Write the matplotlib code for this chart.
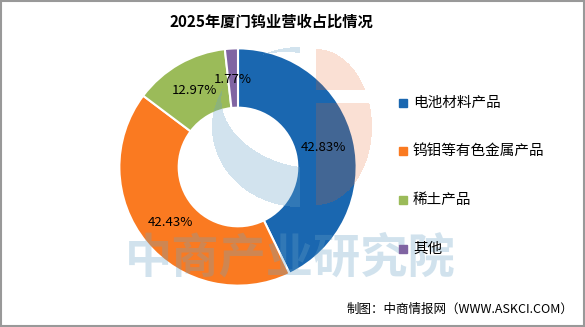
import numpy as np
import matplotlib.pyplot as plt
from matplotlib.patches import Rectangle

plt.rcParams['font.family'] = ['Noto Sans CJK SC', 'DejaVu Sans']

categories = ['电池材料产品', '钨钼等有色金属产品', '稀土产品', '其他']
shares = [42.83, 42.43, 12.97, 1.77]
colors = ['#1A67B0', '#FA7A21', '#9BBB59', '#8064A2']
title = '2025年厦门钨业营收占比情况'
source = '制图：中商情报网（WWW.ASKCI.COM）'
watermark = '中商产业研究院'

W, H = 585, 327
fig = plt.figure(figsize=(W / 100, H / 100), dpi=100)
fig.patch.set_facecolor('white')

# donut, centre at about (238, 167) px, radius 121 px
ax = fig.add_axes([(238 - 121) / W, (H - 167 - 121) / H, 242 / W, 242 / H], zorder=2)
wedges, texts, autotexts = ax.pie(
    shares, colors=colors, startangle=90, counterclock=False, radius=1,
    autopct='%.2f%%', pctdistance=0.74,
    wedgeprops=dict(width=0.5, edgecolor='white', linewidth=1.5))
ax.set_xlim(-1.02, 1.02)
ax.set_ylim(-1.02, 1.02)
ax.set_aspect('equal')

# faint watermark logo over the chart, built as a pixel mask
yy, xx = np.mgrid[0:H, 0:W] + 0.5
left_half = (((xx - 300) / 88) ** 2 + ((yy - 127) / 80) ** 2 <= 1) & (xx <= 300)
th = np.deg2rad(15)
du, dv = xx - 300, yy - 110
u = du * np.cos(th) + dv * np.sin(th)
v = -du * np.sin(th) + dv * np.cos(th)
cut = (u / 80) ** 2 + (v / 56) ** 2 <= 1
right_half = ((((xx - 316) / 56) ** 2 + ((yy - 127) / 78) ** 2 <= 1) & (xx >= 316)
              & ~((yy > 90) & (yy < 103)))
rgba = np.zeros((H, W, 4))
rgba[left_half & ~cut] = (105 / 255, 162 / 255, 198 / 255, 0.3)
rgba[right_half] = (230 / 255, 100 / 255, 40 / 255, 0.2)

over = fig.add_axes([0, 0, 1, 1], zorder=3)
over.imshow(rgba, extent=(0, W, H, 0), interpolation='nearest')
over.set_xlim(0, W)
over.set_ylim(H, 0)
over.axis('off')
over.text(290, 258, watermark, fontsize=34, fontweight='bold',
          color=(105 / 255, 162 / 255, 198 / 255), alpha=0.3, ha='center', va='center')

# percentage labels on top of the watermark
for tx in autotexts:
    px, py = ax.transData.transform(tx.get_position())
    over.text(px, H - py, tx.get_text(), fontsize=9.5, ha='center', va='center', zorder=10)
    tx.set_visible(False)

fig.text(271 / W, 1 - 22 / H, title, fontsize=11, fontweight='bold',
         ha='center', va='center')

leg_y = [103, 151, 200, 249]
for name, col, y in zip(categories, colors, leg_y):
    fig.patches.append(Rectangle((399 / W, 1 - (y + 4) / H), 8 / W, 8 / H,
                                 transform=fig.transFigure, color=col, zorder=5))
    fig.text(413 / W, 1 - y / H, name, fontsize=10.5, va='center', ha='left', zorder=5)

fig.text(573 / W, 1 - 309 / H, source, fontsize=9, ha='right', va='center')

fig.patches.append(Rectangle((0.001, 0.002), 0.997, 0.995, transform=fig.transFigure,
                             fill=False, edgecolor='#999999', linewidth=1.5))

fig.savefig('out.png', dpi=100)
